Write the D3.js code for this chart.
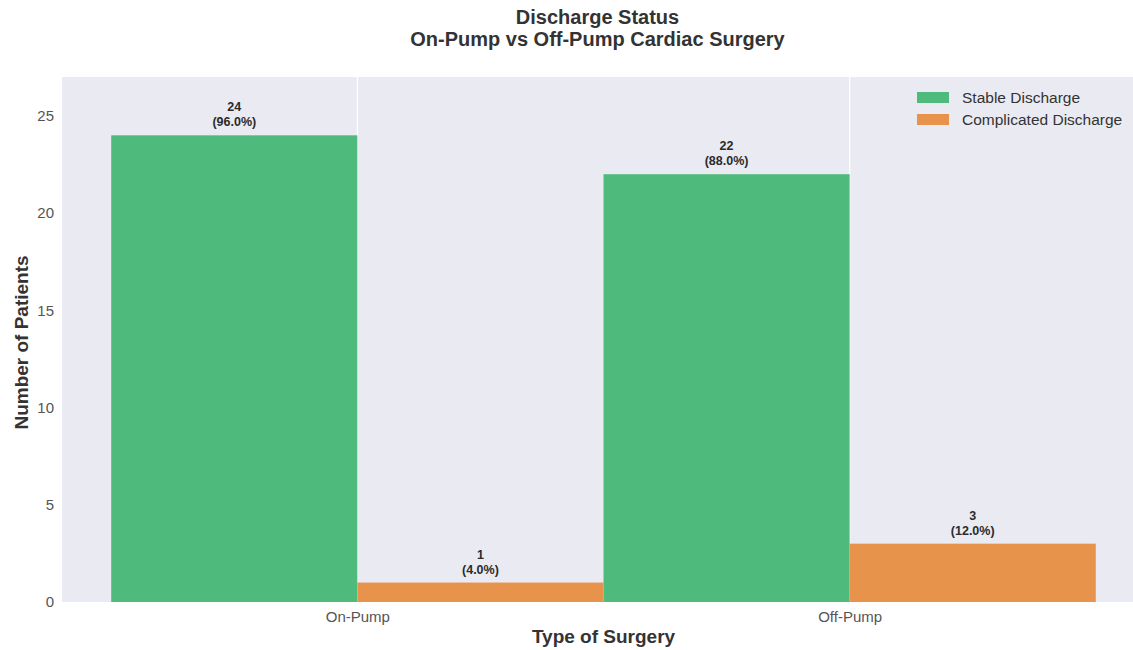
<!DOCTYPE html>
<html>
<head>
<meta charset="utf-8">
<script src="https://cdn.jsdelivr.net/npm/d3@7"></script>
<style>
  body { margin: 0; background: #ffffff; }
  svg { display: block; font-family: "Liberation Sans", Arial, sans-serif; }
</style>
</head>
<body>
<svg id="chart" width="1133" height="650"></svg>
<script>
// Discharge outcomes by surgery type
const categories = ["On-Pump", "Off-Pump"];
const seriesNames = ["Stable Discharge", "Complicated Discharge"];
const stableCounts = [24, 22];
const complicatedCounts = [1, 3];
const stablePercents = [96.0, 88.0];
const complicatedPercents = [4.0, 12.0];
const yTicks = [0, 5, 10, 15, 20, 25];
const seriesColors = ["#4eba7b", "#e7934b"];

const svg = d3.select("#chart");
const W = 1133, H = 650;
const margin = { left: 62, top: 77, right: -12, bottom: 48 };
const plotW = W - margin.left - margin.right;
const plotH = H - margin.top - margin.bottom;

// Linear x over category index, matching a dodge layout with half-unit bars
const x = d3.scaleLinear().domain([-0.6, 1.6]).range([margin.left, margin.left + plotW]);
const y = d3.scaleLinear().domain([0, 27]).range([margin.top + plotH, margin.top]);
const barW = 0.5;

svg.append("defs").append("clipPath").attr("id", "plotclip")
  .append("rect").attr("x", margin.left).attr("y", margin.top)
  .attr("width", plotW).attr("height", plotH);

// Plot background
svg.append("rect")
  .attr("x", margin.left).attr("y", margin.top)
  .attr("width", plotW).attr("height", plotH)
  .attr("fill", "#eaeaf2");

// Vertical grid at category positions
const g = svg.append("g").attr("clip-path", "url(#plotclip)");
g.selectAll("line.vgrid").data(categories).join("line")
  .attr("class", "vgrid")
  .attr("x1", (d, i) => x(i)).attr("x2", (d, i) => x(i))
  .attr("y1", margin.top).attr("y2", margin.top + plotH)
  .attr("stroke", "#ffffff").attr("stroke-width", 1.2);

// Bars
const series = [
  { name: seriesNames[0], counts: stableCounts, pct: stablePercents, offset: -barW / 2, color: seriesColors[0] },
  { name: seriesNames[1], counts: complicatedCounts, pct: complicatedPercents, offset: barW / 2, color: seriesColors[1] }
];

series.forEach(s => {
  const data = categories.map((c, i) => ({ i, v: s.counts[i], p: s.pct[i] }));
  g.selectAll(null).data(data).join("rect")
    .attr("x", d => x(d.i + s.offset - barW / 2))
    .attr("width", d => x(d.i + s.offset + barW / 2) - x(d.i + s.offset - barW / 2))
    .attr("y", d => y(d.v))
    .attr("height", d => y(0) - y(d.v))
    .attr("fill", s.color);

  const lbl = svg.append("g");
  data.forEach(d => {
    const cx = x(d.i + s.offset);
    const top = y(d.v);
    const t = lbl.append("text")
      .attr("x", cx).attr("text-anchor", "middle")
      .attr("font-size", 12.5).attr("font-weight", "bold").attr("fill", "#2b2b2b");
    t.append("tspan").attr("x", cx).attr("y", top - 24).text(d.v);
    t.append("tspan").attr("x", cx).attr("y", top - 9).text(`(${d.p.toFixed(1)}%)`);
  });
});

// Y axis tick labels
const yAxis = d3.axisLeft(y).tickValues(yTicks).tickSize(0).tickPadding(8);
const ya = svg.append("g").attr("transform", `translate(${margin.left},0)`).call(yAxis);
ya.select(".domain").remove();
ya.selectAll("text").attr("font-size", 15).attr("fill", "#555555")
  .attr("font-family", "'Liberation Sans', Arial, sans-serif");

// X axis tick labels
const xAxis = d3.axisBottom(x).tickValues([0, 1]).tickFormat(i => categories[i]).tickSize(0).tickPadding(9);
const xa = svg.append("g").attr("transform", `translate(0,${margin.top + plotH})`).call(xAxis);
xa.select(".domain").remove();
xa.selectAll("text").attr("font-size", 15).attr("fill", "#555555")
  .attr("font-family", "'Liberation Sans', Arial, sans-serif");

// Axis titles
const axisCenterX = margin.left + (x(1.6) - margin.left) / 2;
svg.append("text")
  .attr("x", axisCenterX).attr("y", 643)
  .attr("text-anchor", "middle").attr("font-size", 19).attr("font-weight", "bold").attr("fill", "#333333")
  .text("Type of Surgery");

svg.append("text")
  .attr("transform", `translate(28,${margin.top + plotH / 2 + 3}) rotate(-90)`)
  .attr("text-anchor", "middle").attr("font-size", 19).attr("font-weight", "bold").attr("fill", "#333333")
  .text("Number of Patients");

// Chart title
const title = svg.append("text")
  .attr("text-anchor", "middle").attr("font-size", 20).attr("font-weight", "bold").attr("fill", "#333333");
title.append("tspan").attr("x", axisCenterX - 6).attr("y", 24).text("Discharge Status");
title.append("tspan").attr("x", axisCenterX - 6).attr("y", 46).text("On-Pump vs Off-Pump Cardiac Surgery");

// Legend
const legend = svg.append("g").attr("transform", "translate(917,92)");
series.forEach((s, k) => {
  const row = legend.append("g").attr("transform", `translate(0,${k * 22})`);
  row.append("rect").attr("width", 32).attr("height", 11).attr("fill", s.color);
  row.append("text").attr("x", 45).attr("y", 11)
    .attr("font-size", 15.5).attr("fill", "#333333").text(s.name);
});
</script>
</body>
</html>
